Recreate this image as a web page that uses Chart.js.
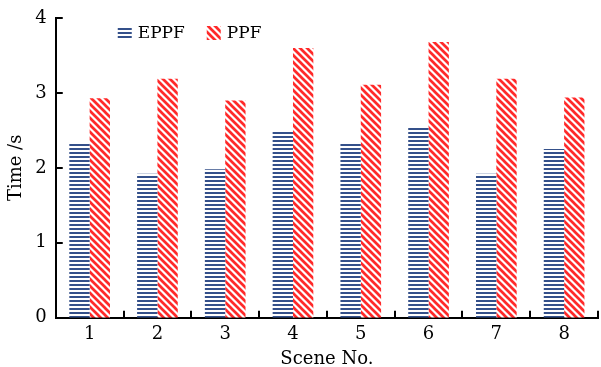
<!DOCTYPE html>
<html>
<head>
<meta charset="utf-8">
<script src="https://cdn.jsdelivr.net/npm/chart.js@4"></script>
<style>
  html, body { margin: 0; padding: 0; background: #fff; }
  #wrap { width: 601px; height: 367px; }
</style>
</head>
<body>
<div id="wrap"><canvas id="timeChart"></canvas></div>
<script>
// Data
const scenes = ["1", "2", "3", "4", "5", "6", "7", "8"];
const eppfTimes = [2.34, 1.92, 1.98, 2.48, 2.34, 2.54, 1.92, 2.25];
const ppfTimes = [2.93, 3.19, 2.90, 3.60, 3.11, 3.68, 3.19, 2.94];
const yTicks = [0, 1, 2, 3, 4];
const seriesNames = ["EPPF", "PPF"];

const colors = {
  blue: "#34508a",
  red: "#ff2a2a",
  axis: "#000000",
};
const fontFamily = "'DejaVu Serif', 'Liberation Serif', serif";
const tickFont = { family: fontFamily, size: 18, lineHeight: 1.0 };
const titleFont = { family: fontFamily, size: 18, lineHeight: 0.85 };

// horizontal stripes for EPPF
function hStripes(color) {
  const c = document.createElement("canvas");
  c.width = 4;
  c.height = 4;
  const g = c.getContext("2d");
  g.fillStyle = "#fff";
  g.fillRect(0, 0, 4, 4);
  g.fillStyle = color;
  g.fillRect(0, 0, 4, 2);
  return g.createPattern(c, "repeat");
}

// diagonal "\" stripes for PPF
function dStripes(color) {
  const s = 7;
  const c = document.createElement("canvas");
  c.width = s;
  c.height = s;
  const g = c.getContext("2d");
  g.fillStyle = "#fff";
  g.fillRect(0, 0, s, s);
  g.strokeStyle = color;
  g.lineWidth = 2.7;
  g.beginPath();
  g.moveTo(-1, -1); g.lineTo(s + 1, s + 1);
  g.moveTo(-1, s - 1); g.lineTo(1, s + 1);
  g.moveTo(s - 1, -1); g.lineTo(s + 1, 1);
  g.stroke();
  return g.createPattern(c, "repeat");
}

const eppfFill = hStripes(colors.blue);
const ppfFill = dStripes(colors.red);

// inward tick marks, like the original figure
const innerTicks = {
  id: "innerTicks",
  afterDraw(chart) {
    const { ctx, chartArea, scales } = chart;
    const len = 7;
    ctx.save();
    ctx.strokeStyle = colors.axis;
    ctx.lineWidth = 2;
    ctx.beginPath();
    yTicks.forEach((v) => {
      const y = Math.round(scales.y.getPixelForValue(v));
      ctx.moveTo(chartArea.left, y);
      ctx.lineTo(chartArea.left + len, y);
    });
    for (let i = 1; i <= scenes.length; i++) {
      const x = Math.round(scales.x.getPixelForValue(i - 0.5));
      ctx.moveTo(x, chartArea.bottom);
      ctx.lineTo(x, chartArea.bottom - len);
    }
    ctx.stroke();
    ctx.restore();
  },
};

// legend drawn inside the plot area
const innerLegend = {
  id: "innerLegend",
  afterDraw(chart) {
    const { ctx, chartArea } = chart;
    const fills = [eppfFill, ppfFill];
    const xs = [chartArea.left + 62, chartArea.left + 151];
    const top = chartArea.top + 8;
    ctx.save();
    ctx.font = "17px " + fontFamily;
    ctx.textBaseline = "middle";
    seriesNames.forEach((name, i) => {
      ctx.fillStyle = fills[i];
      ctx.fillRect(xs[i], top, 14, 14);
      ctx.fillStyle = "#000";
      ctx.fillText(name, xs[i] + 20, top + 8);
    });
    ctx.restore();
  },
};

new Chart(document.getElementById("timeChart").getContext("2d"), {
  type: "bar",
  data: {
    labels: scenes,
    datasets: [
      {
        label: seriesNames[0],
        data: eppfTimes,
        backgroundColor: eppfFill,
        borderWidth: 0,
        categoryPercentage: 0.6,
        barPercentage: 1.0,
      },
      {
        label: seriesNames[1],
        data: ppfTimes,
        backgroundColor: ppfFill,
        borderWidth: 0,
        categoryPercentage: 0.6,
        barPercentage: 1.0,
      },
    ],
  },
  options: {
    responsive: true,
    maintainAspectRatio: false,
    animation: false,
    layout: { padding: { top: 10, right: 3, left: 9, bottom: 0 } },
    plugins: {
      legend: { display: false },
      tooltip: { enabled: false },
    },
    scales: {
      x: {
        grid: { display: false, drawTicks: false },
        border: { display: true, color: colors.axis, width: 2 },
        ticks: {
          color: "#000",
          padding: 8,
          font: tickFont,
        },
        title: {
          display: true,
          text: "Scene No.",
          color: "#000",
          padding: { top: 0, bottom: 0 },
          font: titleFont,
        },
      },
      y: {
        min: 0,
        max: 4,
        afterBuildTicks(scale) {
          scale.ticks = yTicks.map((v) => ({ value: v }));
        },
        grid: { display: false, drawTicks: false },
        border: { display: true, color: colors.axis, width: 2 },
        ticks: {
          color: "#000",
          padding: 9,
          font: tickFont,
        },
        title: {
          display: true,
          text: "Time /s",
          color: "#000",
          padding: { top: 0, bottom: 2 },
          font: titleFont,
        },
      },
    },
  },
  plugins: [innerTicks, innerLegend],
});
</script>
</body>
</html>
